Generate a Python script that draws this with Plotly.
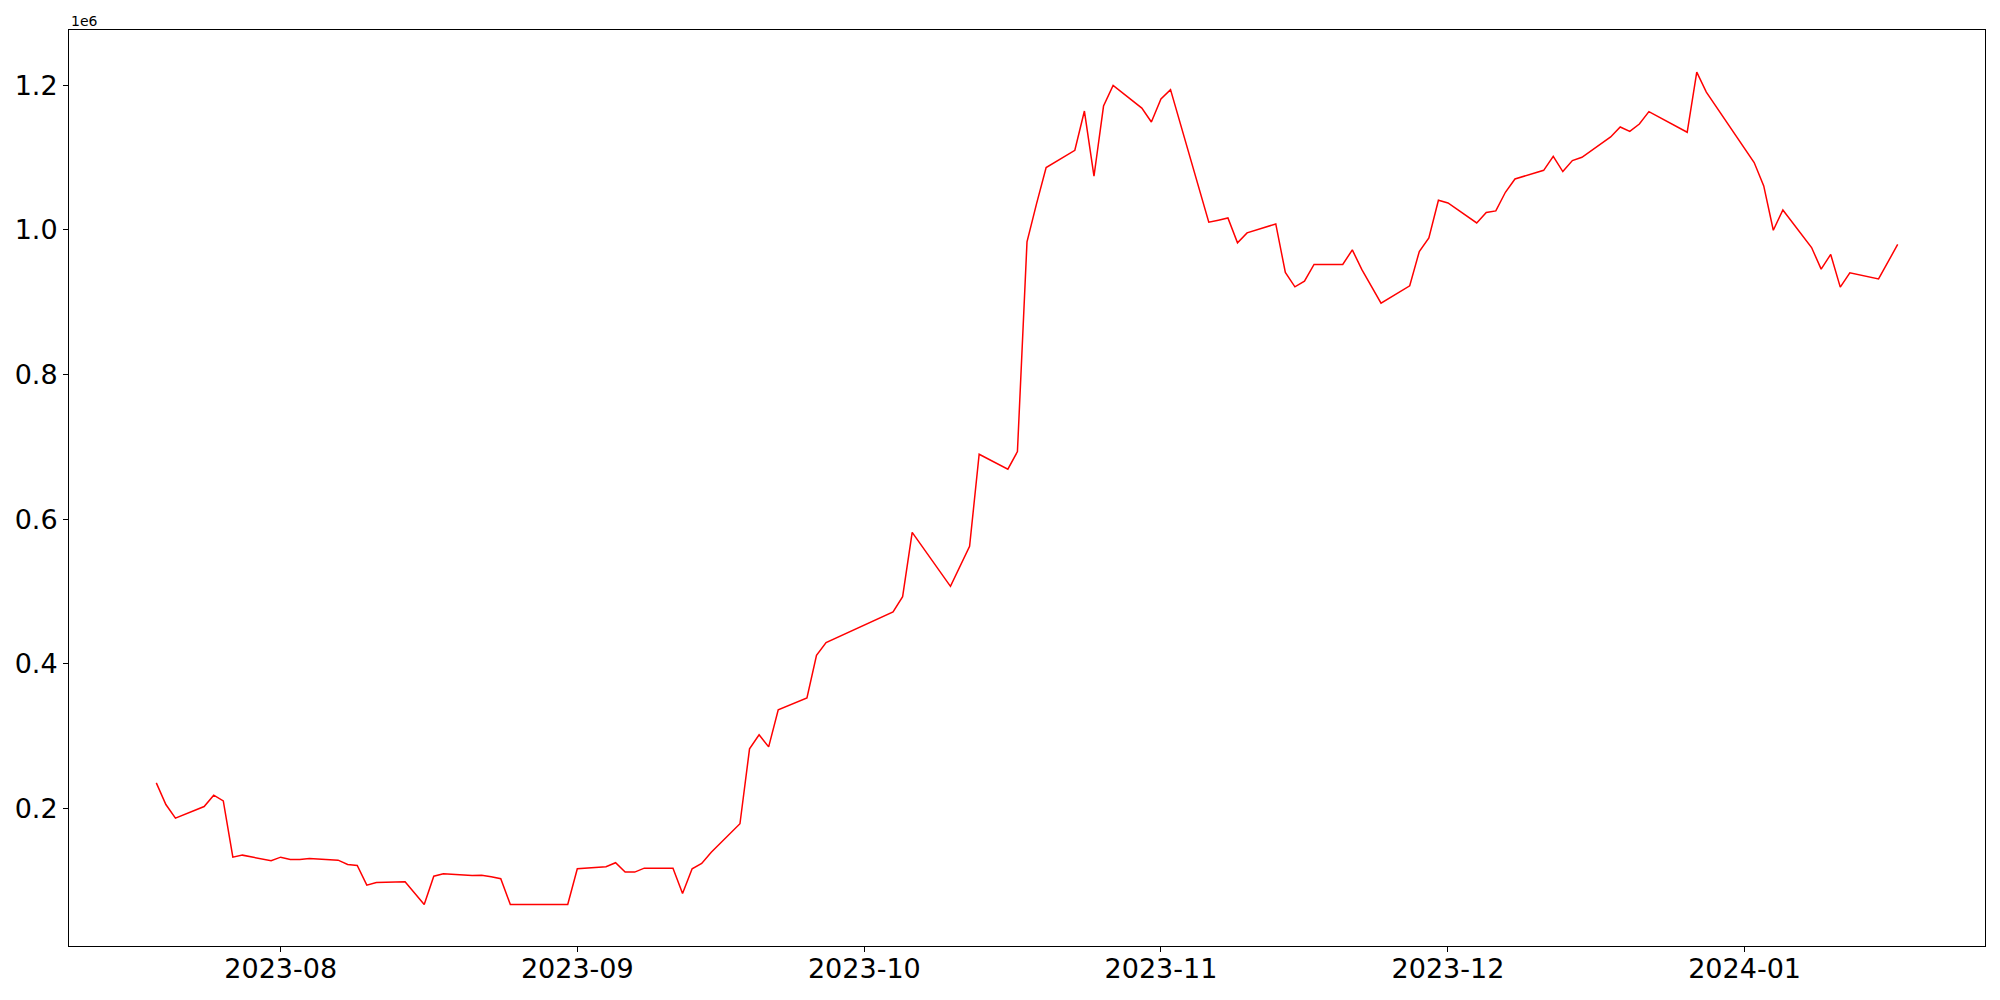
import plotly.graph_objects as go

# trading dates and values (raw units, axis shows x1e6)
dates = [
    "2023-07-19", "2023-07-20", "2023-07-21", "2023-07-24", "2023-07-25", "2023-07-26",
    "2023-07-27", "2023-07-28", "2023-07-31", "2023-08-01", "2023-08-02", "2023-08-03",
    "2023-08-04", "2023-08-07", "2023-08-08", "2023-08-09", "2023-08-10", "2023-08-11",
    "2023-08-14", "2023-08-16", "2023-08-17", "2023-08-18", "2023-08-21", "2023-08-22",
    "2023-08-23", "2023-08-24", "2023-08-25", "2023-08-31", "2023-09-01", "2023-09-04",
    "2023-09-05", "2023-09-06", "2023-09-07", "2023-09-08", "2023-09-11", "2023-09-12",
    "2023-09-13", "2023-09-14", "2023-09-15", "2023-09-18", "2023-09-19", "2023-09-20",
    "2023-09-21", "2023-09-22", "2023-09-25", "2023-09-26", "2023-09-27", "2023-10-04",
    "2023-10-05", "2023-10-06", "2023-10-10", "2023-10-11", "2023-10-12", "2023-10-13",
    "2023-10-16", "2023-10-17", "2023-10-18", "2023-10-19", "2023-10-20", "2023-10-23",
    "2023-10-24", "2023-10-25", "2023-10-26", "2023-10-27", "2023-10-30", "2023-10-31",
    "2023-11-01", "2023-11-02", "2023-11-03", "2023-11-06", "2023-11-07", "2023-11-08",
    "2023-11-09", "2023-11-10", "2023-11-13", "2023-11-14", "2023-11-15", "2023-11-16",
    "2023-11-17", "2023-11-20", "2023-11-21", "2023-11-22", "2023-11-24", "2023-11-27",
    "2023-11-28", "2023-11-29", "2023-11-30", "2023-12-01", "2023-12-04", "2023-12-05",
    "2023-12-06", "2023-12-07", "2023-12-08", "2023-12-11", "2023-12-12", "2023-12-13",
    "2023-12-14", "2023-12-15", "2023-12-18", "2023-12-19", "2023-12-20", "2023-12-21",
    "2023-12-22", "2023-12-26", "2023-12-27", "2023-12-28", "2024-01-02", "2024-01-03",
    "2024-01-04", "2024-01-05", "2024-01-08", "2024-01-09", "2024-01-10", "2024-01-11",
    "2024-01-12", "2024-01-15", "2024-01-17",
]
values = [
    235100, 205100, 186200, 202300, 218000, 210200,
    132300, 135100, 127300, 132300, 129100, 129100,
    130500, 128200, 122200, 120900, 93600, 97300,
    98300, 66900, 106000, 109400, 107000, 107400,
    105200, 102500, 66900, 66900, 116200, 119000,
    124600, 111600, 111600, 117100, 117100, 82100,
    116300, 123600, 139200, 178500, 282100, 301600,
    284900, 336100, 352600, 411600, 429100, 471600,
    492700, 581600, 507000, 533800, 562300, 689700,
    669000, 693300, 983500, 1036500, 1086300, 1110200,
    1164500, 1074300, 1171400, 1200000, 1168600, 1149300,
    1181100, 1194100, 1148000, 1010700, 1013500, 1016600,
    982100, 995900, 1008300, 941200, 921300, 929200,
    952200, 952200, 972400, 945000, 898800, 922700,
    970200, 989000, 1041100, 1037400, 1009700, 1024100,
    1026300, 1052100, 1070500, 1082500, 1101900, 1080700,
    1096000, 1100500, 1128600, 1142400, 1136400, 1146500,
    1163700, 1135100, 1218400, 1190700, 1093200, 1060900,
    999600, 1027700, 975700, 945800, 966100, 920900,
    940600, 932300, 979900,
]

month_ticks = ["2023-08-01", "2023-09-01", "2023-10-01", "2023-11-01", "2023-12-01", "2024-01-01"]
month_labels = ["2023-08", "2023-09", "2023-10", "2023-11", "2023-12", "2024-01"]
y_ticks = [200000, 400000, 600000, 800000, 1000000, 1200000]
y_labels = ["0.2", "0.4", "0.6", "0.8", "1.0", "1.2"]

fig = go.Figure(go.Scatter(x=dates, y=values, mode="lines",
                           line=dict(color="red", width=1.5), showlegend=False))

axis_style = dict(showline=True, linecolor="black", linewidth=1, mirror=True,
                  ticks="outside", ticklen=5, tickwidth=1, tickcolor="black",
                  showgrid=False, zeroline=False,
                  tickfont=dict(family="DejaVu Sans", size=27, color="black"))

fig.update_xaxes(range=["2023-07-09 21:00", "2024-01-26 03:00"],
                 tickvals=month_ticks, ticktext=month_labels,
                 ticklabelstandoff=-6, **axis_style)
fig.update_yaxes(range=[9400, 1276600], tickvals=y_ticks, ticktext=y_labels, **axis_style)

fig.add_annotation(text="1e6", xref="paper", yref="paper", x=0, y=1,
                   xanchor="left", yanchor="bottom", yshift=-1, showarrow=False,
                   font=dict(family="DejaVu Sans", size=14, color="black"))

# page body has an 8px margin, so the figure is a bit smaller than the window
fig.update_layout(width=1984, height=984, plot_bgcolor="white", paper_bgcolor="white",
                  margin=dict(l=61, r=7, t=22, b=46, autoexpand=False))

fig.write_html("out.html")
